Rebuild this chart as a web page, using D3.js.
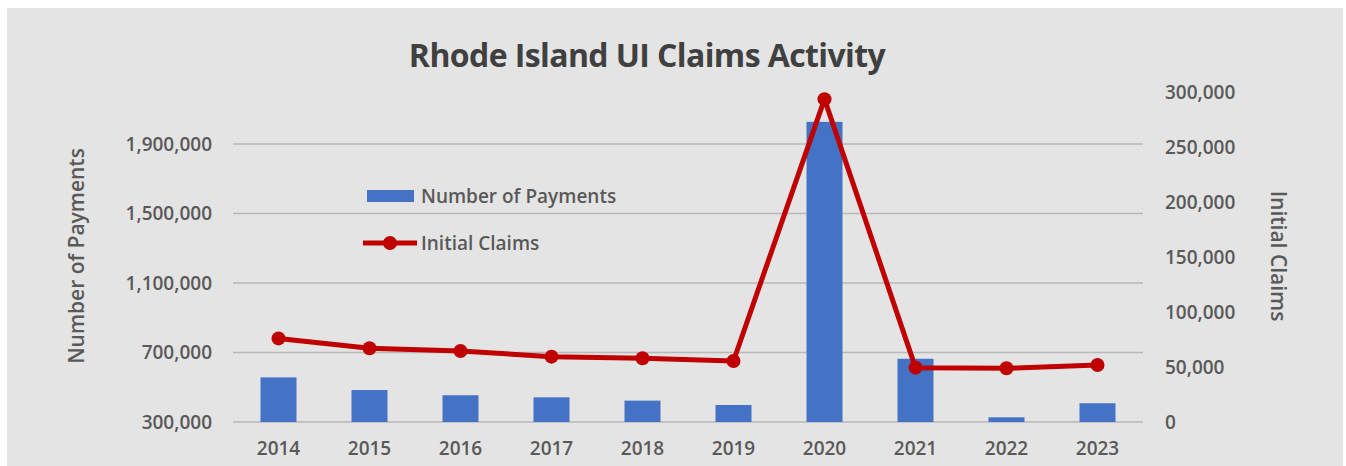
<!DOCTYPE html>
<html>
  <head>
    <meta charset="UTF-8" />
    <title>Rhode Island UI Claims Activity</title>
    <script src="https://d3js.org/d3.v7.min.js"></script>
    <style>
      body {
        margin: 0;
        background: #fff;
      }
      svg text {
        font-family: "Open Sans", "Noto Sans", sans-serif;
      }
    </style>
  </head>
  <body>
    <svg width="1346" height="466"></svg>
    <script>
      var years = ["2014", "2015", "2016", "2017", "2018", "2019", "2020", "2021", "2022", "2023"];
      var payments = [557000, 484000, 454000, 442000, 423000, 398000, 2028000, 664000, 327000, 408000];
      var claims = [76000, 67000, 64500, 59400, 57900, 55500, 293500, 49400, 48800, 51800];
      var leftTicks = [300000, 700000, 1100000, 1500000, 1900000];
      var rightTicks = [0, 50000, 100000, 150000, 200000, 250000, 300000];

      var svg = d3.select("svg"),
        margin = { top: 92, right: 203, bottom: 44, left: 233 },
        width = +svg.attr("width") - margin.left - margin.right,
        height = +svg.attr("height") - margin.top - margin.bottom;

      // chart area background
      svg
        .append("rect")
        .attr("x", 7)
        .attr("y", 8)
        .attr("width", 1336)
        .attr("height", 466)
        .attr("fill", "#e4e4e4");

      var g = svg
        .append("g")
        .attr("transform", "translate(" + margin.left + "," + margin.top + ")");

      var xc = d3.scaleBand().domain(years).range([0, width]);
      var yL = d3.scaleLinear().domain([300000, 2200000]).range([height, 0]);
      var yR = d3.scaleLinear().domain([0, 300000]).range([height, 0]);
      var fmt = d3.format(",");

      // gridlines
      g.append("g")
        .selectAll("line")
        .data(leftTicks)
        .enter()
        .append("line")
        .attr("x1", 0)
        .attr("x2", width)
        .attr("y1", function (d) { return yL(d); })
        .attr("y2", function (d) { return yL(d); })
        .attr("stroke", "#b9b9b9")
        .attr("stroke-width", 1.5);

      // bars
      g.append("g")
        .selectAll("rect")
        .data(years)
        .enter()
        .append("rect")
        .attr("x", function (d) { return xc(d) + xc.bandwidth() / 2 - 18; })
        .attr("width", 36)
        .attr("y", function (d, i) { return yL(payments[i]); })
        .attr("height", function (d, i) { return height - yL(payments[i]); })
        .attr("fill", "#4472c4");

      // line
      var line = d3
        .line()
        .x(function (d, i) { return xc(years[i]) + xc.bandwidth() / 2; })
        .y(function (d) { return yR(d); });

      g.append("path")
        .datum(claims)
        .attr("fill", "none")
        .attr("stroke", "#c00000")
        .attr("stroke-width", 5)
        .attr("stroke-linejoin", "round")
        .attr("d", line);

      g.append("g")
        .selectAll("circle")
        .data(claims)
        .enter()
        .append("circle")
        .attr("cx", function (d, i) { return xc(years[i]) + xc.bandwidth() / 2; })
        .attr("cy", function (d) { return yR(d); })
        .attr("r", 7)
        .attr("fill", "#c00000");

      // left axis
      var left = g
        .append("g")
        .call(d3.axisLeft(yL).tickValues(leftTicks).tickFormat(fmt).tickSize(0).tickPadding(21));
      left.select(".domain").remove();
      left.selectAll("text").attr("font-size", 19).attr("font-weight", 600).attr("fill", "#595959");

      // right axis
      var right = g
        .append("g")
        .attr("transform", "translate(" + width + ",0)")
        .call(d3.axisRight(yR).tickValues(rightTicks).tickFormat(fmt).tickSize(0).tickPadding(22));
      right.select(".domain").remove();
      right.selectAll("text").attr("font-size", 19).attr("font-weight", 600).attr("fill", "#595959");

      // x axis
      var bottom = g
        .append("g")
        .attr("transform", "translate(0," + height + ")")
        .call(d3.axisBottom(xc).tickSize(0).tickPadding(20));
      bottom.select(".domain").remove();
      bottom.selectAll("text").attr("font-size", 19).attr("font-weight", 600).attr("fill", "#595959");

      // axis titles
      svg
        .append("text")
        .attr("transform", "translate(84,256) rotate(-90)")
        .attr("text-anchor", "middle")
        .attr("font-size", 21)
        .attr("font-weight", 600)
        .attr("fill", "#595959")
        .text("Number of Payments");

      svg
        .append("text")
        .attr("transform", "translate(1271,256) rotate(90)")
        .attr("text-anchor", "middle")
        .attr("font-size", 21)
        .attr("font-weight", 600)
        .attr("fill", "#595959")
        .text("Initial Claims");

      // title
      svg
        .append("text")
        .attr("x", 647)
        .attr("y", 67)
        .attr("text-anchor", "middle")
        .attr("font-size", 32)
        .attr("font-weight", "bold")
        .attr("letter-spacing", -0.6)
        .attr("fill", "#404040")
        .text("Rhode Island UI Claims Activity");

      // legend
      var legend = svg.append("g").attr("font-size", 19).attr("font-weight", 600).attr("fill", "#595959");
      legend
        .append("rect")
        .attr("x", 367)
        .attr("y", 190)
        .attr("width", 47)
        .attr("height", 12)
        .attr("fill", "#4472c4");
      legend.append("text").attr("x", 421).attr("y", 196).attr("dy", "0.35em").text("Number of Payments");
      legend
        .append("line")
        .attr("x1", 363)
        .attr("x2", 417)
        .attr("y1", 243)
        .attr("y2", 243)
        .attr("stroke", "#c00000")
        .attr("stroke-width", 5);
      legend.append("circle").attr("cx", 390).attr("cy", 243).attr("r", 7).attr("fill", "#c00000");
      legend.append("text").attr("x", 421).attr("y", 243).attr("dy", "0.35em").text("Initial Claims");
    </script>
  </body>
</html>
